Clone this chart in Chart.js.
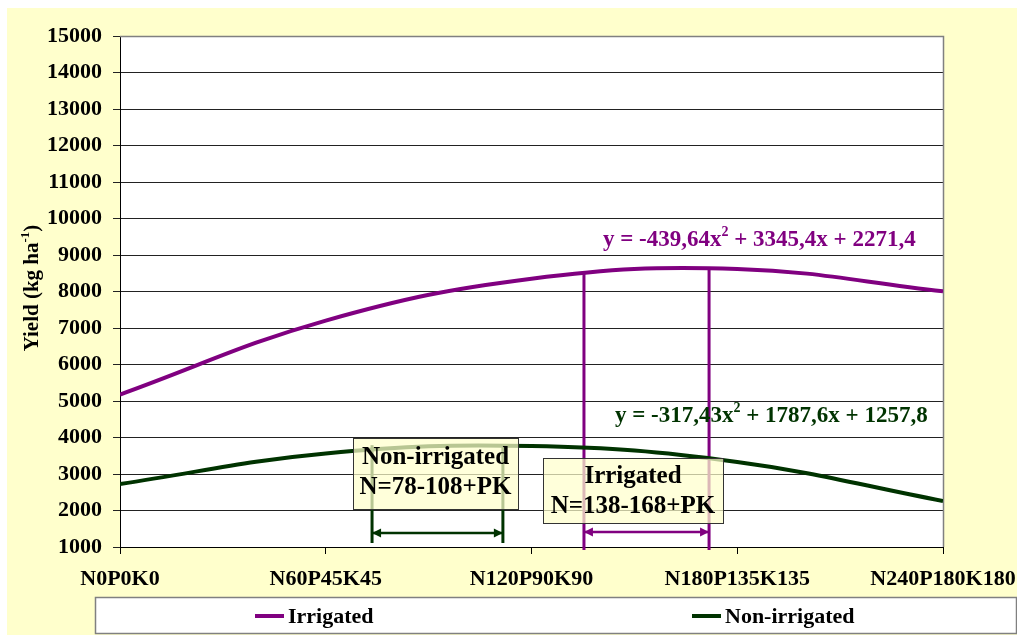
<!DOCTYPE html>
<html>
<head>
<meta charset="utf-8">
<script src="https://cdn.jsdelivr.net/npm/chart.js@4.4.1/dist/chart.umd.min.js"></script>
<style>
  html, body { margin: 0; padding: 0; background: #ffffff; overflow: hidden; }
  canvas { display: block; }
</style>
</head>
<body>
<canvas id="yieldChart" width="1017" height="635"></canvas>
<script>
// Fertiliser treatments (category axis)
const categories = ['N0P0K0', 'N60P45K45', 'N120P90K90', 'N180P135K135', 'N240P180K180'];

// Fitted yield, kg/ha, at each treatment
const irrigated = [5177, 7204, 8351, 8619, 8007];
const nonIrrigated = [2728, 3563, 3764, 3329, 2260];

// Y axis range
const yMin = 1000;
const yMax = 15000;
const yStep = 1000;

// Optimum N windows, expressed on the treatment axis (0 = N0 ... 4 = N240)
const irrigatedWindow = [2.255, 2.863];
const irrigatedWindowTop = [8534, 8644];
const irrigatedWindowBase = 920;
const irrigatedArrowLevel = 1411;

const nonIrrigatedWindow = [1.225, 1.861];
const nonIrrigatedWindowTop = [3790, 3790];
const nonIrrigatedWindowBase = 1110;
const nonIrrigatedArrowLevel = 1384;

// Trend-line equations: [text, superscript, text]
const irrigatedEquation = ['y = -439,64x', '2', ' + 3345,4x + 2271,4'];
const nonIrrigatedEquation = ['y = -317,43x', '2', ' + 1787,6x + 1257,8'];

const seriesNames = ['Irrigated', 'Non-irrigated'];
const windowLabels = [['Non-irrigated', 'N=78-108+PK'], ['Irrigated', 'N=138-168+PK']];

const SERIF = "'Liberation Serif', 'Times New Roman', serif";
const PURPLE = '#800080';
const GREEN = '#003300';

function series(values) {
  return values.map((v, i) => ({ x: i, y: v }));
}
function vline(x, y0, y1) {
  return [{ x: x, y: y0 }, { x: x, y: y1 }];
}
function hline(x0, x1, y) {
  return [{ x: x0, y: y }, { x: x1, y: y }];
}

function segmentStyle(color, width) {
  return {
    borderColor: color, backgroundColor: color, borderWidth: width,
    pointRadius: 0, tension: 0, clip: false, fill: false
  };
}

const datasets = [
  Object.assign({ label: seriesNames[0], data: series(irrigated), tension: 0.4 },
    { borderColor: PURPLE, backgroundColor: PURPLE, borderWidth: 4, pointRadius: 0, fill: false }),
  Object.assign({ label: seriesNames[1], data: series(nonIrrigated), tension: 0.4 },
    { borderColor: GREEN, backgroundColor: GREEN, borderWidth: 4, pointRadius: 0, fill: false }),
  Object.assign({ label: 'irr-lo', data: vline(irrigatedWindow[0], irrigatedWindowBase, irrigatedWindowTop[0]) }, segmentStyle(PURPLE, 3)),
  Object.assign({ label: 'irr-hi', data: vline(irrigatedWindow[1], irrigatedWindowBase, irrigatedWindowTop[1]) }, segmentStyle(PURPLE, 3)),
  Object.assign({ label: 'non-lo', data: vline(nonIrrigatedWindow[0], nonIrrigatedWindowBase, nonIrrigatedWindowTop[0]) }, segmentStyle(GREEN, 3)),
  Object.assign({ label: 'non-hi', data: vline(nonIrrigatedWindow[1], nonIrrigatedWindowBase, nonIrrigatedWindowTop[1]) }, segmentStyle(GREEN, 3)),
  Object.assign({ label: 'irr-arrow', data: hline(irrigatedWindow[0], irrigatedWindow[1], irrigatedArrowLevel), arrow: true }, segmentStyle(PURPLE, 2.5)),
  Object.assign({ label: 'non-arrow', data: hline(nonIrrigatedWindow[0], nonIrrigatedWindow[1], nonIrrigatedArrowLevel), arrow: true }, segmentStyle(GREEN, 2.5))
];

// Draws text made of [normal, superscript, normal] pieces
function richWidth(ctx, parts, size) {
  ctx.font = `bold ${size}px ${SERIF}`;
  let w = ctx.measureText(parts[0]).width + ctx.measureText(parts[2]).width;
  ctx.font = `bold ${Math.round(size * 0.62)}px ${SERIF}`;
  w += ctx.measureText(parts[1]).width;
  return w;
}
function drawRich(ctx, parts, x, y, size, color) {
  ctx.fillStyle = color;
  ctx.textAlign = 'left';
  ctx.textBaseline = 'alphabetic';
  ctx.font = `bold ${size}px ${SERIF}`;
  ctx.fillText(parts[0], x, y);
  x += ctx.measureText(parts[0]).width;
  const sup = Math.round(size * 0.62);
  ctx.font = `bold ${sup}px ${SERIF}`;
  ctx.fillText(parts[1], x, y - size * 0.42);
  x += ctx.measureText(parts[1]).width;
  ctx.font = `bold ${size}px ${SERIF}`;
  ctx.fillText(parts[2], x, y);
}

function arrowHead(ctx, tipX, tipY, dir, color) {
  const len = 9, half = 4.5;
  ctx.fillStyle = color;
  ctx.beginPath();
  ctx.moveTo(tipX, tipY);
  ctx.lineTo(tipX - dir * len, tipY - half);
  ctx.lineTo(tipX - dir * len, tipY + half);
  ctx.closePath();
  ctx.fill();
}

function labelBox(ctx, left, top, right, bottom, lines, cx, baselines) {
  ctx.fillStyle = 'rgba(255, 255, 204, 0.72)';
  ctx.fillRect(left, top, right - left, bottom - top);
  ctx.strokeStyle = '#333333';
  ctx.lineWidth = 1;
  ctx.strokeRect(left + 0.5, top + 0.5, right - left, bottom - top);
  ctx.fillStyle = '#000000';
  ctx.font = `bold 25px ${SERIF}`;
  ctx.textAlign = 'center';
  ctx.textBaseline = 'alphabetic';
  lines.forEach((t, i) => ctx.fillText(t, cx, baselines[i]));
}

const decorations = {
  id: 'decorations',
  beforeDraw(chart) {
    const ctx = chart.ctx;
    const a = chart.chartArea;
    ctx.save();
    ctx.fillStyle = '#ffffff';
    ctx.fillRect(0, 0, chart.width, chart.height);
    ctx.fillStyle = '#ffffcc';
    ctx.fillRect(7, 8, chart.width - 7, chart.height - 8);
    ctx.fillStyle = '#ffffff';
    ctx.fillRect(a.left, a.top, a.right - a.left, a.bottom - a.top);
    ctx.restore();
  },
  beforeDatasetsDraw(chart) {
    const ctx = chart.ctx;
    const a = chart.chartArea;
    ctx.save();
    ctx.strokeStyle = '#808080';
    ctx.lineWidth = 1.5;
    ctx.beginPath();
    ctx.moveTo(a.left, a.top + 0.5);
    ctx.lineTo(a.right + 0.5, a.top + 0.5);
    ctx.lineTo(a.right + 0.5, a.bottom);
    ctx.stroke();
    ctx.restore();
  },
  afterDatasetsDraw(chart) {
    const ctx = chart.ctx;
    const xs = chart.scales.x, ys = chart.scales.y;
    ctx.save();

    // arrow heads on the window arrows
    chart.data.datasets.forEach((ds) => {
      if (!ds.arrow) return;
      const p0 = ds.data[0], p1 = ds.data[1];
      const x0 = xs.getPixelForValue(p0.x), x1 = xs.getPixelForValue(p1.x);
      const y = ys.getPixelForValue(p0.y);
      arrowHead(ctx, x0, y, -1, ds.borderColor);
      arrowHead(ctx, x1, y, 1, ds.borderColor);
    });

    // window annotation boxes
    labelBox(ctx, 353, 438, 518, 509, windowLabels[0], 435.5, [464, 494]);
    labelBox(ctx, 543, 458, 723, 523, windowLabels[1], 633, [483, 513]);

    // trend-line equations
    drawRich(ctx, irrigatedEquation, 603, 246, 23, PURPLE);
    drawRich(ctx, nonIrrigatedEquation, 615, 422, 23, GREEN);

    // y axis title with superscript
    const title = ['Yield (kg ha', '-1', ')'];
    const tw = richWidth(ctx, title, 21);
    ctx.translate(38, 288);
    ctx.rotate(-Math.PI / 2);
    drawRich(ctx, title, -tw / 2, 0, 21, '#000000');
    ctx.setTransform(1, 0, 0, 1, 0, 0);

    // legend
    ctx.fillStyle = '#ffffff';
    ctx.fillRect(95, 597, 921, 36);
    ctx.strokeStyle = '#808080';
    ctx.lineWidth = 1.5;
    ctx.strokeRect(95.5, 597.5, 921, 36);
    const items = [
      { name: seriesNames[0], color: PURPLE, x: 255 },
      { name: seriesNames[1], color: GREEN, x: 692 }
    ];
    items.forEach((it) => {
      ctx.strokeStyle = it.color;
      ctx.lineWidth = 4;
      ctx.beginPath();
      ctx.moveTo(it.x, 616);
      ctx.lineTo(it.x + 29, 616);
      ctx.stroke();
      ctx.fillStyle = '#000000';
      ctx.font = `bold 22px ${SERIF}`;
      ctx.textAlign = 'left';
      ctx.textBaseline = 'middle';
      ctx.fillText(it.name, it.x + 33, 617);
    });

    ctx.restore();
  }
};

new Chart(document.getElementById('yieldChart'), {
  type: 'line',
  data: { datasets: datasets },
  options: {
    responsive: false,
    animation: false,
    events: [],
    layout: { padding: { left: 0, right: 74, top: 36, bottom: 38 } },
    plugins: { legend: { display: false }, tooltip: { enabled: false } },
    scales: {
      x: {
        type: 'linear',
        min: 0,
        max: categories.length - 1,
        ticks: {
          stepSize: 1,
          autoSkip: false,
          maxRotation: 0,
          minRotation: 0,
          padding: 12,
          color: '#000000',
          font: { family: SERIF, size: 22, weight: 'bold' },
          callback: (v) => (Number.isInteger(v) ? categories[v] : '')
        },
        grid: { drawOnChartArea: false, drawTicks: true, tickLength: 7, color: '#000000', lineWidth: 1 },
        border: { display: true, color: '#000000', width: 1 },
        afterFit(s) { s.height = 50; s.paddingLeft = 0; s.paddingRight = 0; }
      },
      y: {
        min: yMin,
        max: yMax,
        ticks: {
          stepSize: yStep,
          padding: 11,
          color: '#000000',
          font: { family: SERIF, size: 22, weight: 'bold' },
          callback: (v) => String(v)
        },
        grid: { color: '#222222', lineWidth: 1, tickLength: 7, drawTicks: true },
        border: { display: true, color: '#000000', width: 1 },
        afterFit(s) { s.width = 120; s.paddingTop = 0; s.paddingBottom = 0; }
      }
    }
  },
  plugins: [decorations]
});
</script>
</body>
</html>
